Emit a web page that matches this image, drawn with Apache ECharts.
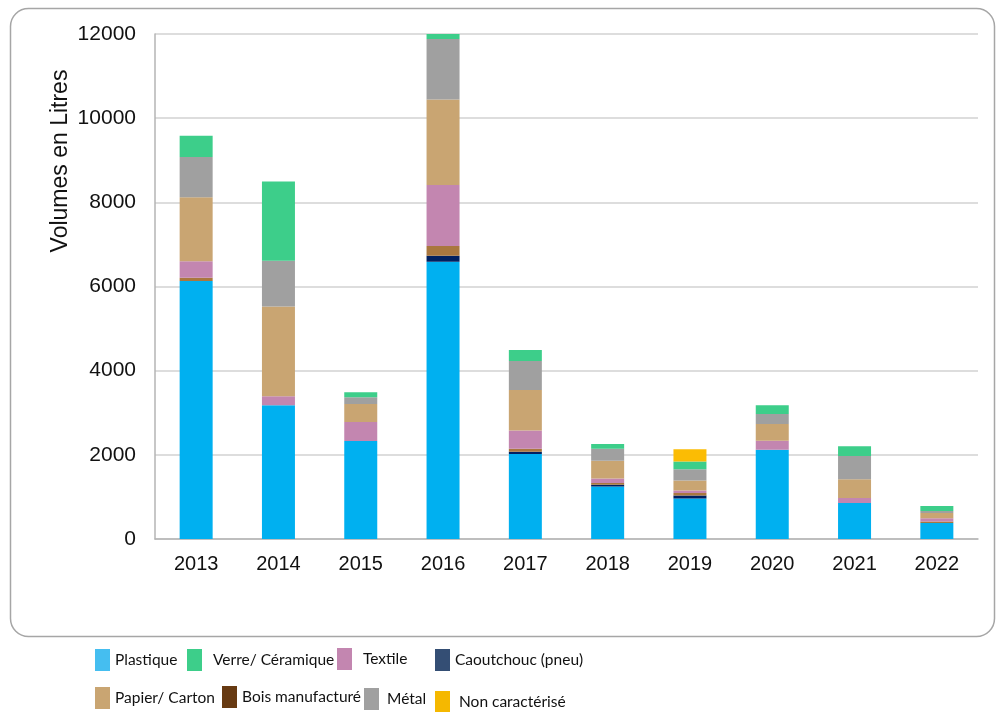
<!DOCTYPE html>
<html lang="fr">
<head>
    <meta charset="UTF-8">
    <title>Volumes en Litres</title>
    <script src="https://cdn.jsdelivr.net/npm/echarts@6/dist/echarts.min.js"></script>
    <style>
        body { margin: 0; background: #fff; }
    </style>
</head>
<body>

<div id="main" style="width: 996px;height:712px;"></div>

<script type="text/javascript">
    // données (litres)
    var years = ['2013', '2014', '2015', '2016', '2017', '2018', '2019', '2020', '2021', '2022'];
    var plastique = [6130, 3180, 2330, 6590, 2020, 1250, 960, 2120, 855, 380];
    var caoutchouc = [0, 0, 0, 143, 55, 38, 71, 0, 0, 0];
    var bois = [80, 0, 0, 230, 71, 40, 64, 0, 0, 33];
    var textile = [390, 214, 450, 1450, 430, 112, 55, 214, 120, 78];
    var papier = [1520, 2130, 430, 2030, 965, 418, 238, 397, 445, 126];
    var metal = [960, 1085, 160, 1440, 690, 285, 271, 238, 555, 48];
    var verre = [500, 1885, 120, 117, 260, 112, 180, 207, 230, 120];
    var nonCar = [0, 0, 0, 0, 0, 0, 295, 0, 0, 0];

    var myChart = echarts.init(document.getElementById('main'));

    function serie(name, data, color) {
        return {
            name: name,
            type: 'bar',
            stack: 'total',
            barWidth: 33,
            itemStyle: { color: color },
            data: data
        };
    }

    // une légende par entrée pour reproduire la disposition irrégulière
    var legendFont = { fontFamily: 'Lato', fontSize: 15.5, color: '#111' };
    function legende(name, color, left, top, pad) {
        return {
            left: left,
            top: top,
            icon: 'rect',
            itemWidth: 15,
            itemHeight: 22,
            padding: 0,
            textStyle: Object.assign({ padding: [7, 0, 0, pad || 0] }, legendFont),
            data: [{ name: name, itemStyle: { color: color } }]
        };
    }

    myChart.setOption({
        animation: false,
        graphic: [{
            type: 'rect',
            shape: { x: 10.5, y: 8.5, width: 984, height: 628, r: 18 },
            style: { fill: 'none', stroke: '#A6A6A6', lineWidth: 1.5 },
            z: -1
        }, {
            type: 'text',
            x: 61,
            y: 161,
            rotation: Math.PI / 2,
            style: {
                text: 'Volumes en Litres',
                fontSize: 23,
                fontFamily: 'Liberation Sans',
                fill: '#111',
                textAlign: 'center',
                textVerticalAlign: 'middle'
            }
        }],
        legend: [
            legende('Plastique', '#45BEF0', 95, 649),
            legende('Verre/ Céramique', '#3DCE8A', 187, 649, 6),
            legende('Textile', '#C386B0', 337, 648, 6),
            legende('Caoutchouc (pneu)', '#344E74', 435, 649),
            legende('Papier/ Carton', '#C9A572', 95, 687),
            legende('Bois manufacturé', '#673A12', 222, 686),
            legende('Métal', '#A0A0A0', 364, 688, 3),
            legende('Non caractérisé', '#F5B800', 435, 691, 4)
        ],
        grid: {
            left: 155,
            right: 18,
            top: 34,
            bottom: 173
        },
        xAxis: {
            type: 'category',
            data: years,
            axisTick: { show: false },
            axisLine: { lineStyle: { color: '#B4B4B4', width: 1.5 } },
            axisLabel: {
                margin: 15,
                fontSize: 20,
                fontFamily: 'Liberation Sans',
                color: '#111'
            }
        },
        yAxis: {
            type: 'value',
            min: 0,
            max: 12000,
            interval: 2000,
            axisLine: { show: true, lineStyle: { color: '#B4B4B4', width: 1.5 } },
            axisTick: { show: false },
            splitLine: { lineStyle: { color: '#D2D2D2', width: 1.5 } },
            axisLabel: {
                margin: 19,
                fontSize: 21,
                fontFamily: 'Liberation Sans',
                color: '#111',
                formatter: function (v) { return String(v); }
            }
        },
        series: [
            serie('Plastique', plastique, '#00B0F0'),
            serie('Caoutchouc (pneu)', caoutchouc, '#002060'),
            serie('Bois manufacturé', bois, '#A9773F'),
            serie('Textile', textile, '#C386B0'),
            serie('Papier/ Carton', papier, '#C9A572'),
            serie('Métal', metal, '#A0A0A0'),
            serie('Verre/ Céramique', verre, '#3DCE8A'),
            serie('Non caractérisé', nonCar, '#FBBC04')
        ]
    });
</script>

</body>
</html>
